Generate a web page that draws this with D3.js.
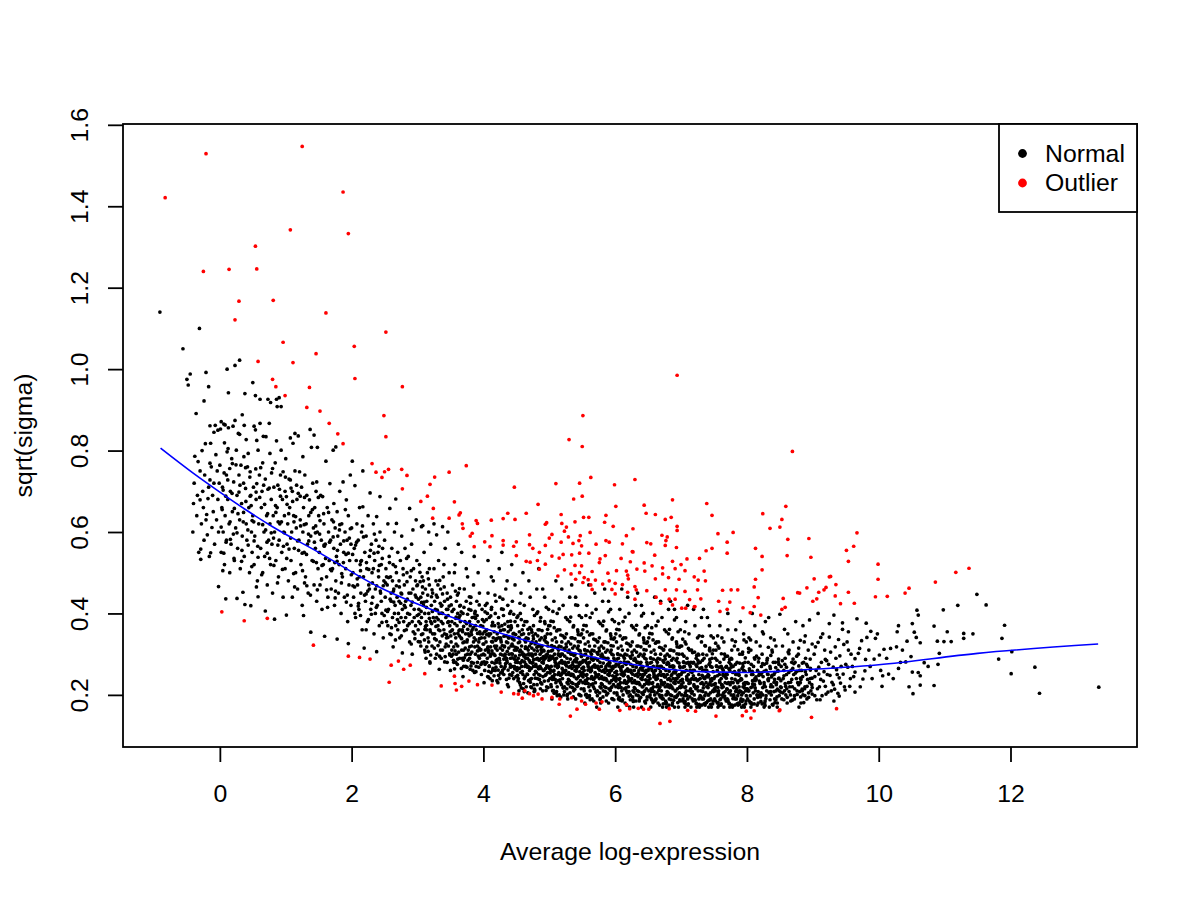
<!DOCTYPE html>
<html>
<head>
<meta charset="utf-8">
<script src="https://cdn.jsdelivr.net/npm/d3@7"></script>
<style>
  html, body { margin: 0; padding: 0; background: #fff; }
  svg text { font-family: "Liberation Sans", Arial, Helvetica, sans-serif; fill: #000; }
</style>
</head>
<body>
<svg id="chart" width="1200" height="900"></svg>
<script>
/* tick labels */
var xTicks = [0, 2, 4, 6, 8, 10, 12];
var yTicks = [0.2, 0.4, 0.6, 0.8, 1.0, 1.2, 1.4, 1.6];

/* legend */
var legendLabels = ["Normal", "Outlier"];
var legendColors = ["#000000", "#ff0000"];

/* fitted trend (x, y) */
var fitX = [-0.9, -0.4, 0, 0.4, 0.8, 1.5, 2.4, 3.5, 4.7, 6.0, 7.3, 8.0, 8.8, 10.0, 11.5, 13.33];
var fitY = [0.806, 0.744, 0.698, 0.654, 0.613, 0.55, 0.466, 0.392, 0.331, 0.282, 0.257, 0.255, 0.261, 0.274, 0.302, 0.325];

/* normal genes, flat x,y pairs */
var normalLeft = [
  -0.91,1.14, -0.56,1.05, -0.50,.975, -0.48,.961, -0.45,.988,
  -0.41,.60, -0.40,.67, -0.39,.72, -0.38,.786, -0.36,.891, -0.35,.64, -0.34,.69, -0.33,.773, -0.32,.55, -0.31,1.10,
  -0.30,.679, -0.30,.75, -0.29,.558, -0.29,.533, -0.28,.62, -0.27,.80, -0.26,.70, -0.25,.66, -0.24,.922, -0.24,.58,
  -0.23,.74, -0.22,.817, -0.21,.992, -0.21,.63, -0.20,.643, -0.19,.593, -0.18,.682, -0.17,.957, -0.17,.71, -0.16,.54,
  -0.15,.769, -0.15,.728, -0.15,.861, -0.14,.818, -0.14,.549, -0.13,.76, -0.12,.611, -0.11,.69, -0.10,.65, -0.09,.845,
  -0.09,.72, -0.08,.57, -0.07,.862, -0.06,.79, -0.05,.63, -0.04,.75, -0.03,.85, -0.03,.68, -0.02,.466, -0.02,.60, -0.01,.72,
  0.00,.764, 0.01,.853, 0.02,.871, 0.02,.55, 0.03,.66, 0.04,.71, 0.05,.703, 0.05,.60, 0.06,.865, 0.07,.819, 0.07,.52,
  0.08,.863, 0.08,.64, 0.09,.436, 0.10,.74, 0.10,.58, 0.11,1.0, 0.11,.797, 0.12,.68, 0.13,.856, 0.13,.942, 0.14,.62,
  0.15,.756, 0.15,.50, 0.16,.70, 0.17,.57, 0.18,.78, 0.19,.65, 0.20,.86, 0.21,.723, 0.22,.53, 0.23,.874, 0.23,1.009,
  0.24,.61, 0.25,.801, 0.26,.437, 0.26,.69, 0.27,.56, 0.28,.842, 0.29,.74, 0.30,1.022, 0.30,.84, 0.30,.63, 0.31,.51,
  0.32,.764, 0.33,.67, 0.34,.888, 0.34,.59, 0.35,.452, 0.36,.72, 0.37,.862, 0.37,.54, 0.38,.94, 0.38,.422, 0.39,.707,
  0.40,.827, 0.40,.62, 0.41,.58, 0.42,.76, 0.43,.793, 0.44,.66, 0.45,.50, 0.46,.748, 0.47,.419, 0.47,.69, 0.48,.60, 0.49,.55,
  0.50,.967, 0.50,.64, 0.51,.71, 0.52,.86, 0.52,.52, 0.53,.59, 0.54,.935, 0.54,.851, 0.55,.68, 0.56,.825, 0.56,.719,
  0.57,.48, 0.58,.441, 0.58,.801, 0.59,.62, 0.60,.74, 0.61,.926, 0.61,.867, 0.62,.56, 0.63,.66, 0.64,.70, 0.65,.77,
  0.65,.50, 0.66,.835, 0.67,.60, 0.68,.54, 0.69,.406, 0.69,.73, 0.70,.834, 0.71,.64, 0.72,.47, 0.73,.926, 0.73,.705,
  0.74,.58, 0.75,.867, 0.76,.793, 0.76,.62, 0.77,.918, 0.77,.52, 0.78,.68, 0.79,.57, 0.80,.756, 0.80,.45, 0.81,.64,
  0.82,.71, 0.83,.386, 0.83,.60, 0.84,.77, 0.85,.53, 0.86,.824, 0.86,.926, 0.87,.908, 0.87,.66, 0.88,.715, 0.89,.49,
  0.90,.93, 0.90,.58, 0.91,.62, 0.92,.74, 0.93,.908, 0.93,.801, 0.94,.55, 0.95,.68, 0.96,.748, 0.96,.44, 0.97,.60,
  0.98,.64, 0.99,.51, 0.99,.70,
  1.00,.78, 1.01,.396, 1.01,.687, 1.02,.57, 1.03,.62, 1.04,.48, 1.05,.73, 1.06,.66, 1.07,.831, 1.07,.728, 1.08,.53,
  1.09,.60, 1.10,.44, 1.10,.70, 1.11,.818, 1.12,.64, 1.13,.56, 1.14,.842, 1.14,.75, 1.15,.50, 1.16,.61, 1.17,.68,
  1.18,.46, 1.19,.836, 1.19,.695, 1.20,.58, 1.21,.748, 1.22,.63, 1.23,.52, 1.24,.71, 1.25,.42, 1.26,.785, 1.26,.60,
  1.27,.395, 1.27,.66, 1.28,.55, 1.29,.74, 1.30,.49, 1.31,.62, 1.32,.69, 1.33,.57, 1.34,.45, 1.35,.64, 1.36,.679,
  1.37,.852, 1.38,.354, 1.38,.59, 1.39,.808, 1.40,.53, 1.41,.72, 1.42,.61, 1.43,.838, 1.43,.47, 1.44,.66, 1.45,.56,
  1.46,.70, 1.47,.723, 1.47,.43, 1.48,.808, 1.48,.60, 1.49,.51,
  1.50,.64, 1.51,.55, 1.52,.47, 1.53,.69, 1.54,.58, 1.55,.41, 1.56,.687, 1.57,.52, 1.58,.62, 1.59,.344, 1.60,.57,
  1.61,.774, 1.62,.49, 1.63,.66, 1.64,.44, 1.65,.60, 1.66,.53, 1.67,.719, 1.68,.58, 1.69,.46, 1.70,.63, 1.71,.51,
  1.72,.801, 1.73,.670, 1.73,.56, 1.74,.42, 1.75,.61, 1.76,.809, 1.76,.48, 1.77,.54, 1.78,.337, 1.78,.65, 1.79,.59,
  1.80,.45, 1.81,.52, 1.82,.70, 1.83,.57, 1.84,.40, 1.85,.62, 1.86,.49, 1.87,.723, 1.88,.55, 1.89,.44, 1.90,.60,
  1.91,.51, 1.92,.679, 1.93,.58, 1.94,.38, 1.95,.326, 1.95,.64, 1.96,.47, 1.97,.53, 1.98,.74, 1.99,.42, 1.99,.57
];

var normalMid = [
  2.00,.61, 2.01,.774, 2.02,.50, 2.03,.44, 2.04,.56, 2.05,.714, 2.06,.39, 2.07,.53, 2.08,.62, 2.09,.47, 2.10,.58,
  2.11,.41, 2.12,.66, 2.13,.52, 2.14,.45, 2.15,.60, 2.16,.36, 2.17,.75, 2.17,.662, 2.18,.49, 2.19,.315, 2.20,.55,
  2.21,.43, 2.22,.59, 2.23,.51, 2.24,.38, 2.25,.64, 2.26,.47, 2.27,.54, 2.28,.696, 2.29,.41, 2.30,.57, 2.31,.50,
  2.32,.44, 2.33,.62, 2.34,.35, 2.35,.53, 2.36,.46, 2.37,.58, 2.38,.638, 2.38,.306, 2.39,.42, 2.40,.55, 2.41,.49,
  2.42,.37, 2.43,.687, 2.43,.60, 2.44,.45, 2.45,.52, 2.46,.40, 2.47,.56, 2.48,.34, 2.49,.48, 2.05,.40, 2.12,.49,
  2.22,.36, 2.27,.46, 2.36,.40, 2.45,.43, 2.15,.53, 2.33,.51,
  2.50,.58, 2.51,.44, 2.52,.51, 2.53,.38, 2.54,.47, 2.55,.62, 2.56,.41, 2.57,.54, 2.58,.658, 2.58,.35, 2.59,.49,
  2.60,.43, 2.61,.56, 2.62,.39, 2.63,.318, 2.63,.52, 2.64,.46, 2.65,.60, 2.66,.42, 2.67,.681, 2.67,.37, 2.68,.621,
  2.68,.50, 2.69,.44, 2.70,.55, 2.71,.40, 2.72,.48, 2.73,.34, 2.74,.53, 2.75,.45, 2.76,.59, 2.77,.303, 2.77,.41,
  2.78,.51, 2.79,.38, 2.80,.47, 2.81,.56, 2.82,.43, 2.83,.36, 2.84,.50, 2.85,.40, 2.86,.54, 2.87,.45, 2.88,.658,
  2.88,.33, 2.89,.49, 2.90,.42, 2.91,.57, 2.92,.30, 2.92,.38, 2.93,.605, 2.93,.46, 2.94,.51, 2.95,.41, 2.96,.35,
  2.97,.48, 2.98,.44, 2.99,.53, 2.55,.37, 2.60,.45, 2.65,.40, 2.70,.36, 2.75,.39, 2.80,.42, 2.85,.37, 2.90,.45,
  2.95,.39, 2.53,.49, 2.62,.48, 2.72,.43, 2.82,.39, 2.97,.37, 2.98,.63,
  3.00,.47, 3.01,.36, 3.02,.41, 3.03,.52, 3.04,.33, 3.05,.44, 3.06,.613, 3.06,.39, 3.07,.49, 3.08,.35, 3.09,.42,
  3.10,.55, 3.11,.31, 3.12,.46, 3.13,.38, 3.14,.43, 3.15,.50, 3.16,.34, 3.17,.40, 3.18,.47, 3.19,.278, 3.19,.36,
  3.20,.57, 3.21,.42, 3.22,.32, 3.23,.45, 3.24,.39, 3.25,.51, 3.26,.35, 3.27,.41, 3.28,.48, 3.29,.593, 3.29,.30,
  3.30,.44, 3.31,.37, 3.32,.53, 3.33,.263, 3.33,.40, 3.34,.33, 3.35,.46, 3.36,.38, 3.37,.42, 3.38,.31, 3.39,.49,
  3.40,.36, 3.41,.43, 3.42,.294, 3.42,.56, 3.43,.39, 3.44,.34, 3.45,.45, 3.46,.41, 3.47,.32, 3.48,.50, 3.49,.37,
  3.02,.38, 3.05,.32, 3.08,.45, 3.11,.40, 3.14,.36, 3.17,.33, 3.20,.38, 3.23,.35, 3.26,.43, 3.29,.39, 3.32,.36,
  3.35,.31, 3.38,.40, 3.41,.35, 3.44,.41, 3.47,.38, 3.13,.29, 3.27,.29, 3.36,.29, 3.45,.28, 3.09,.48, 3.31,.47,
  3.40,.52, 3.18,.51, 3.08,.616, 3.38,.613, 3.17,.60, 3.46,.60, 3.25,.62,
  3.50,.26, 3.50,.44, 3.51,.33, 3.52,.38, 3.53,.47, 3.54,.30, 3.55,.41, 3.56,.35, 3.57,.52, 3.58,.28, 3.59,.43,
  3.60,.37, 3.61,.32, 3.62,.45, 3.63,.39, 3.64,.29, 3.65,.42, 3.66,.34, 3.67,.55, 3.68,.36, 3.69,.245, 3.69,.40,
  3.70,.31, 3.71,.46, 3.72,.38, 3.73,.27, 3.74,.43, 3.75,.33, 3.76,.49, 3.77,.35, 3.78,.41, 3.79,.29, 3.80,.263,
  3.80,.37, 3.81,.44, 3.82,.32, 3.83,.39, 3.84,.26, 3.85,.47, 3.86,.34, 3.87,.40, 3.88,.30, 3.89,.36, 3.90,.43,
  3.91,.28, 3.92,.38, 3.93,.33, 3.94,.45, 3.95,.31, 3.96,.37, 3.97,.25, 3.98,.41, 3.99,.35, 3.52,.31, 3.55,.28,
  3.58,.34, 3.61,.40, 3.64,.36, 3.67,.31, 3.70,.27, 3.73,.35, 3.76,.30, 3.79,.38, 3.82,.28, 3.85,.33, 3.88,.37,
  3.91,.32, 3.94,.29, 3.97,.34, 3.53,.36, 3.59,.30, 3.65,.38, 3.71,.33, 3.77,.31, 3.83,.36, 3.89,.27, 3.95,.35,
  3.56,.50, 3.74,.51, 3.92,.50, 3.62,.57, 3.86,.54, 3.68,.29, 3.80,.30, 3.98,.28,
  4.00,.30, 4.01,.38, 4.02,.26, 4.03,.42, 4.04,.33, 4.05,.36, 4.06,.29, 4.07,.45, 4.08,.31, 4.09,.39, 4.10,.24,
  4.11,.35, 4.12,.41, 4.13,.28, 4.14,.33, 4.15,.48, 4.16,.30, 4.17,.37, 4.18,.26, 4.19,.43, 4.20,.32, 4.21,.35,
  4.22,.23, 4.23,.39, 4.24,.29, 4.25,.44, 4.26,.34, 4.27,.27, 4.28,.37, 4.29,.31, 4.30,.41, 4.31,.25, 4.32,.36,
  4.33,.30, 4.34,.46, 4.35,.33, 4.36,.28, 4.37,.38, 4.38,.22, 4.39,.34, 4.40,.40, 4.41,.29, 4.42,.32, 4.43,.27,
  4.44,.43, 4.45,.35, 4.46,.24, 4.47,.31, 4.48,.38, 4.49,.28, 4.02,.34, 4.05,.28, 4.08,.35, 4.11,.30, 4.14,.26,
  4.17,.32, 4.20,.28, 4.23,.34, 4.26,.30, 4.29,.26, 4.32,.32, 4.35,.29, 4.38,.34, 4.41,.36, 4.44,.30, 4.47,.27,
  4.03,.31, 4.09,.27, 4.15,.34, 4.21,.31, 4.27,.33, 4.33,.27, 4.39,.30, 4.45,.32, 4.06,.40, 4.18,.40, 4.30,.36,
  4.42,.37, 4.12,.49, 4.24,.51, 4.36,.48, 4.48,.47, 4.07,.53, 4.28,.55, 4.43,.52, 4.01,.23, 4.25,.24, 4.40,.25,
  4.13,.37, 4.37,.42,
  4.50,.31, 4.51,.26, 4.52,.37, 4.53,.29, 4.54,.34, 4.55,.23, 4.56,.40, 4.57,.28, 4.58,.32, 4.59,.36, 4.60,.25,
  4.61,.30, 4.62,.42, 4.63,.27, 4.64,.33, 4.65,.22, 4.66,.38, 4.67,.29, 4.68,.31, 4.69,.35, 4.70,.26, 4.71,.44,
  4.72,.30, 4.73,.24, 4.74,.33, 4.75,.28, 4.76,.37, 4.77,.31, 4.78,.21, 4.79,.35, 4.80,.27, 4.81,.40, 4.82,.29,
  4.83,.32, 4.84,.25, 4.85,.36, 4.86,.30, 4.87,.23, 4.88,.34, 4.89,.28, 4.90,.46, 4.91,.31, 4.92,.26, 4.93,.38,
  4.94,.29, 4.95,.33, 4.96,.22, 4.97,.35, 4.98,.27, 4.99,.41, 4.52,.28, 4.55,.33, 4.58,.27, 4.61,.35, 4.64,.29,
  4.67,.25, 4.70,.32, 4.73,.36, 4.76,.27, 4.79,.30, 4.82,.24, 4.85,.32, 4.88,.29, 4.91,.26, 4.94,.34, 4.97,.30,
  4.53,.24, 4.59,.30, 4.65,.34, 4.71,.28, 4.77,.25, 4.83,.36, 4.89,.32, 4.95,.25, 4.51,.39, 4.63,.38, 4.75,.41,
  4.87,.39, 4.99,.37, 4.57,.45, 4.69,.48, 4.81,.46, 4.93,.44, 4.60,.50, 4.84,.51, 4.54,.21, 4.72,.22, 4.90,.21,
  4.56,.31, 4.68,.27, 4.80,.33, 4.92,.29, 4.62,.24, 4.74,.30, 4.86,.27, 4.98,.32,
  5.00,.29, 5.01,.24, 5.02,.35, 5.03,.27, 5.04,.32, 5.05,.21, 5.06,.38, 5.07,.26, 5.08,.30, 5.09,.34, 5.10,.23,
  5.11,.29, 5.12,.40, 5.13,.25, 5.14,.31, 5.15,.20, 5.16,.36, 5.17,.28, 5.18,.30, 5.19,.33, 5.20,.24, 5.21,.42,
  5.22,.28, 5.23,.22, 5.24,.31, 5.25,.26, 5.26,.35, 5.27,.29, 5.28,.19, 5.29,.33, 5.30,.25, 5.31,.38, 5.32,.27,
  5.33,.30, 5.34,.23, 5.35,.34, 5.36,.28, 5.37,.21, 5.38,.32, 5.39,.26, 5.40,.44, 5.41,.29, 5.42,.24, 5.43,.36,
  5.44,.27, 5.45,.31, 5.46,.20, 5.47,.33, 5.48,.25, 5.49,.39, 5.02,.26, 5.05,.31, 5.08,.25, 5.11,.33, 5.14,.27,
  5.17,.23, 5.20,.30, 5.23,.34, 5.26,.25, 5.29,.28, 5.32,.22, 5.35,.30, 5.38,.27, 5.41,.24, 5.44,.32, 5.47,.28,
  5.03,.22, 5.09,.28, 5.15,.32, 5.21,.26, 5.27,.23, 5.33,.34, 5.39,.30, 5.45,.23, 5.01,.37, 5.13,.36, 5.25,.39,
  5.37,.37, 5.49,.35, 5.07,.43, 5.19,.46, 5.31,.44, 5.43,.42, 5.10,.48, 5.34,.47, 5.04,.19, 5.22,.20, 5.40,.19,
  5.06,.29, 5.18,.25, 5.30,.31, 5.42,.27, 5.12,.22, 5.24,.28, 5.36,.25, 5.48,.30,
  5.50,.28, 5.51,.23, 5.52,.34, 5.53,.26, 5.54,.31, 5.55,.20, 5.56,.37, 5.57,.25, 5.58,.29, 5.59,.33, 5.60,.22,
  5.61,.28, 5.62,.39, 5.63,.24, 5.64,.30, 5.65,.19, 5.66,.35, 5.67,.27, 5.68,.29, 5.69,.32, 5.70,.23, 5.71,.41,
  5.72,.27, 5.73,.21, 5.74,.30, 5.75,.25, 5.76,.34, 5.77,.28, 5.78,.18, 5.79,.32, 5.80,.24, 5.81,.37, 5.82,.26,
  5.83,.29, 5.84,.22, 5.85,.33, 5.86,.27, 5.87,.20, 5.88,.31, 5.89,.25, 5.90,.43, 5.91,.28, 5.92,.23, 5.93,.35,
  5.94,.26, 5.95,.30, 5.96,.19, 5.97,.32, 5.98,.24, 5.99,.38, 5.52,.25, 5.55,.30, 5.58,.24, 5.61,.32, 5.64,.26,
  5.67,.22, 5.70,.29, 5.73,.33, 5.76,.24, 5.79,.27, 5.82,.21, 5.85,.29, 5.88,.26, 5.91,.23, 5.94,.31, 5.97,.27,
  5.53,.21, 5.59,.27, 5.65,.31, 5.71,.25, 5.77,.22, 5.83,.33, 5.89,.29, 5.95,.22, 5.51,.36, 5.63,.35, 5.75,.38,
  5.87,.36, 5.99,.34, 5.57,.42, 5.69,.45, 5.81,.43, 5.93,.41, 5.60,.47, 5.84,.46, 5.54,.18, 5.72,.17, 5.90,.18,
  5.56,.28, 5.68,.24, 5.80,.30, 5.92,.26, 5.62,.21, 5.74,.27, 5.86,.24, 5.98,.29
];

var normalRight = [
  6.00,.27, 6.01,.22, 6.02,.33, 6.03,.25, 6.04,.30, 6.05,.19, 6.06,.36, 6.07,.24, 6.08,.28, 6.09,.32, 6.10,.21,
  6.11,.27, 6.12,.38, 6.13,.23, 6.14,.29, 6.15,.18, 6.16,.34, 6.17,.26, 6.18,.28, 6.19,.31, 6.20,.22, 6.21,.40,
  6.22,.26, 6.23,.20, 6.24,.29, 6.25,.24, 6.26,.33, 6.27,.27, 6.28,.17, 6.29,.31, 6.30,.23, 6.31,.36, 6.32,.25,
  6.33,.28, 6.34,.21, 6.35,.32, 6.36,.26, 6.37,.19, 6.38,.30, 6.39,.24, 6.40,.42, 6.41,.27, 6.42,.22, 6.43,.34,
  6.44,.25, 6.45,.29, 6.46,.18, 6.47,.31, 6.48,.23, 6.49,.37, 6.02,.24, 6.05,.29, 6.08,.23, 6.11,.31, 6.14,.25,
  6.17,.21, 6.20,.28, 6.23,.32, 6.26,.23, 6.29,.26, 6.32,.20, 6.35,.28, 6.38,.25, 6.41,.22, 6.44,.30, 6.47,.26,
  6.03,.20, 6.09,.26, 6.15,.30, 6.21,.24, 6.27,.21, 6.33,.32, 6.39,.28, 6.45,.21, 6.01,.35, 6.13,.34, 6.25,.37,
  6.37,.35, 6.49,.33, 6.07,.41, 6.19,.44, 6.31,.42, 6.43,.40, 6.10,.46, 6.34,.45, 6.04,.17, 6.22,.17, 6.40,.17,
  6.06,.27, 6.18,.23, 6.30,.29, 6.42,.25, 6.12,.20, 6.24,.26, 6.36,.23, 6.48,.28,
  6.50,.26, 6.51,.21, 6.52,.32, 6.53,.24, 6.54,.29, 6.55,.19, 6.56,.35, 6.57,.23, 6.58,.27, 6.59,.31, 6.60,.20,
  6.61,.26, 6.62,.37, 6.63,.22, 6.64,.28, 6.65,.18, 6.66,.33, 6.67,.25, 6.68,.27, 6.69,.30, 6.70,.21, 6.71,.39,
  6.72,.25, 6.73,.19, 6.74,.28, 6.75,.23, 6.76,.32, 6.77,.26, 6.78,.17, 6.79,.30, 6.80,.22, 6.81,.35, 6.82,.24,
  6.83,.27, 6.84,.20, 6.85,.31, 6.86,.25, 6.87,.18, 6.88,.29, 6.89,.23, 6.90,.41, 6.91,.26, 6.92,.21, 6.93,.33,
  6.94,.24, 6.95,.28, 6.96,.17, 6.97,.30, 6.98,.22, 6.99,.36, 6.52,.23, 6.55,.28, 6.58,.22, 6.61,.30, 6.64,.24,
  6.67,.20, 6.70,.27, 6.73,.31, 6.76,.22, 6.79,.25, 6.82,.19, 6.85,.27, 6.88,.24, 6.91,.21, 6.94,.29, 6.97,.25,
  6.53,.20, 6.59,.25, 6.65,.29, 6.71,.23, 6.77,.20, 6.83,.31, 6.89,.27, 6.95,.20, 6.51,.34, 6.63,.33, 6.75,.36,
  6.87,.34, 6.99,.32, 6.57,.40, 6.69,.43, 6.81,.41, 6.93,.39, 6.60,.44, 6.84,.43, 6.54,.17, 6.72,.17, 6.90,.17,
  6.56,.26, 6.68,.22, 6.80,.28, 6.92,.24, 6.62,.19, 6.74,.25, 6.86,.22, 6.98,.27,
  7.00,.25, 7.01,.20, 7.02,.30, 7.03,.23, 7.04,.28, 7.05,.18, 7.06,.33, 7.07,.22, 7.08,.26, 7.09,.29, 7.10,.19,
  7.11,.25, 7.12,.35, 7.13,.21, 7.14,.27, 7.15,.17, 7.16,.31, 7.17,.24, 7.18,.26, 7.19,.28, 7.20,.20, 7.21,.37,
  7.22,.24, 7.23,.18, 7.24,.27, 7.25,.22, 7.26,.30, 7.27,.25, 7.28,.17, 7.29,.28, 7.30,.21, 7.31,.33, 7.32,.23,
  7.33,.26, 7.34,.19, 7.35,.29, 7.36,.24, 7.37,.18, 7.38,.27, 7.39,.22, 7.40,.39, 7.41,.25, 7.42,.20, 7.43,.31,
  7.44,.23, 7.45,.27, 7.46,.17, 7.47,.29, 7.48,.21, 7.49,.34, 7.02,.22, 7.05,.27, 7.08,.21, 7.11,.28, 7.14,.23,
  7.17,.19, 7.20,.26, 7.23,.29, 7.26,.21, 7.29,.24, 7.32,.19, 7.35,.26, 7.38,.23, 7.41,.20, 7.44,.28, 7.47,.24,
  7.03,.19, 7.09,.24, 7.15,.28, 7.21,.22, 7.27,.19, 7.33,.30, 7.39,.26, 7.45,.19, 7.01,.32, 7.13,.31, 7.25,.34,
  7.37,.32, 7.49,.31, 7.07,.38, 7.19,.41, 7.31,.39, 7.43,.37, 7.10,.42, 7.34,.41, 7.06,.17, 7.24,.17, 7.42,.17,
  7.50,.24, 7.51,.19, 7.52,.29, 7.53,.22, 7.54,.27, 7.55,.18, 7.56,.32, 7.57,.21, 7.58,.25, 7.59,.28, 7.60,.19,
  7.61,.24, 7.62,.34, 7.63,.20, 7.64,.26, 7.65,.17, 7.66,.30, 7.67,.23, 7.68,.25, 7.69,.27, 7.70,.19, 7.71,.36,
  7.72,.23, 7.73,.18, 7.74,.26, 7.75,.21, 7.76,.29, 7.77,.24, 7.78,.17, 7.79,.27, 7.80,.20, 7.81,.32, 7.82,.22,
  7.83,.25, 7.84,.19, 7.85,.28, 7.86,.23, 7.87,.18, 7.88,.26, 7.89,.21, 7.90,.38, 7.91,.24, 7.92,.20, 7.93,.30,
  7.94,.22, 7.95,.26, 7.96,.17, 7.97,.28, 7.98,.21, 7.99,.33, 7.52,.21, 7.55,.26, 7.58,.20, 7.61,.27, 7.64,.22,
  7.67,.19, 7.70,.25, 7.73,.28, 7.76,.20, 7.79,.23, 7.82,.19, 7.85,.25, 7.88,.22, 7.91,.19, 7.94,.27, 7.97,.23,
  7.53,.31, 7.65,.33, 7.77,.31, 7.89,.30, 7.59,.37, 7.71,.40, 7.83,.36, 7.95,.35, 7.56,.17, 7.74,.17, 7.92,.17,
  8.00,.23, 8.01,.19, 8.02,.28, 8.03,.21, 8.04,.26, 8.05,.18, 8.06,.31, 8.08,.22, 8.09,.25, 8.10,.27, 8.11,.19,
  8.12,.24, 8.14,.33, 8.15,.20, 8.16,.26, 8.17,.18, 8.18,.29, 8.20,.23, 8.21,.25, 8.22,.27, 8.24,.20, 8.25,.35,
  8.26,.23, 8.27,.18, 8.29,.26, 8.30,.21, 8.31,.29, 8.33,.24, 8.34,.17, 8.35,.27, 8.37,.20, 8.38,.31, 8.39,.22,
  8.41,.25, 8.42,.19, 8.43,.28, 8.45,.23, 8.46,.18, 8.47,.26, 8.49,.21, 8.02,.21, 8.07,.25, 8.13,.21, 8.19,.20,
  8.23,.30, 8.28,.22, 8.32,.25, 8.36,.22, 8.40,.28, 8.44,.21, 8.48,.24, 8.03,.34, 8.12,.37, 8.20,.32, 8.28,.38,
  8.36,.34, 8.44,.32, 8.08,.40, 8.33,.39, 8.06,.17, 8.26,.17, 8.46,.17,
  8.50,.398, 8.51,.22, 8.52,.27, 8.53,.19, 8.55,.24, 8.57,.361, 8.57,.21, 8.58,.29, 8.60,.25, 8.61,.18, 8.63,.23,
  8.64,.31, 8.66,.20, 8.67,.26, 8.69,.22, 8.70,.33, 8.72,.19, 8.73,.28, 8.75,.24, 8.76,.21, 8.78,.30, 8.79,.17,
  8.81,.334, 8.81,.23, 8.83,.26, 8.85,.37, 8.85,.20, 8.86,.28, 8.88,.22, 8.90,.25, 8.91,.19, 8.93,.31, 8.95,.384,
  8.95,.23, 8.97,.21, 8.99,.202, 8.99,.325, 8.54,.32, 8.62,.35, 8.68,.28, 8.74,.38, 8.80,.26, 8.87,.33, 8.92,.27,
  8.56,.26, 8.65,.22, 8.71,.25, 8.77,.23, 8.84,.21, 8.89,.29, 8.96,.24, 8.59,.20, 8.82,.18
];

/* extra genes filling the dense core of the cloud */
var normalCore = [
  0.035,.655, 0.065,.745, 0.095,.575, 0.125,.805, 0.155,.625, 0.185,.695, 0.215,.535, 0.245,.765, 0.275,.645,
  0.305,.715, 0.335,.555, 0.365,.785, 0.395,.675, 0.425,.605, 0.455,.735, 0.485,.515, 0.045,.505, 0.205,.595,
  0.355,.625, 0.475,.665,
  0.515,.625, 0.545,.755, 0.575,.565, 0.605,.685, 0.635,.495, 0.665,.715, 0.695,.605, 0.725,.645, 0.755,.535,
  0.785,.745, 0.815,.585, 0.845,.665, 0.875,.475, 0.905,.705, 0.935,.625, 0.965,.565, 0.995,.735, 0.555,.465,
  0.715,.575, 0.885,.625,
  1.015,.535, 1.045,.645, 1.075,.585, 1.105,.675, 1.135,.465, 1.165,.715, 1.195,.555, 1.225,.615, 1.255,.505,
  1.285,.685, 1.315,.545, 1.345,.595, 1.375,.445, 1.405,.655, 1.435,.575, 1.465,.525, 1.495,.685, 1.125,.625,
  1.285,.475, 1.455,.615,
  1.515,.595, 1.545,.485, 1.575,.645, 1.605,.535, 1.635,.415, 1.665,.575, 1.695,.505, 1.725,.625, 1.755,.455,
  1.785,.555, 1.815,.605, 1.845,.475, 1.875,.525, 1.905,.655, 1.935,.445, 1.965,.585, 1.995,.495, 1.585,.565,
  1.745,.525, 1.915,.545,
  2.015,.545, 2.045,.465, 2.075,.575, 2.105,.425, 2.135,.505, 2.165,.615, 2.195,.445, 2.225,.525, 2.255,.385,
  2.285,.555, 2.315,.475, 2.345,.595, 2.375,.415, 2.405,.505, 2.435,.455, 2.465,.535, 2.495,.395, 2.085,.485,
  2.245,.455, 2.415,.565, 2.135,.395, 2.305,.425,
  2.515,.475, 2.545,.405, 2.575,.525, 2.605,.365, 2.635,.455, 2.665,.515, 2.695,.385, 2.725,.465, 2.755,.345,
  2.785,.495, 2.815,.415, 2.845,.435, 2.875,.375, 2.905,.505, 2.935,.355, 2.965,.445, 2.995,.395, 2.585,.435,
  2.745,.425, 2.905,.325, 2.665,.335, 2.835,.535,
  3.015,.435, 3.045,.375, 3.075,.465, 3.105,.335, 3.135,.415, 3.165,.485, 3.195,.355, 3.225,.405, 3.255,.315,
  3.285,.445, 3.315,.385, 3.345,.425, 3.375,.345, 3.405,.465, 3.435,.325, 3.465,.395, 3.495,.355, 3.055,.405,
  3.215,.375, 3.385,.375, 3.115,.305, 3.285,.335, 3.455,.435, 3.155,.445, 3.335,.295,
  3.505,.345, 3.525,.405, 3.545,.285, 3.565,.375, 3.585,.325, 3.605,.445, 3.625,.305, 3.645,.395, 3.665,.265,
  3.685,.355, 3.705,.415, 3.725,.315, 3.745,.375, 3.765,.285, 3.785,.345, 3.805,.425, 3.825,.305, 3.845,.365,
  3.865,.255, 3.885,.335, 3.905,.395, 3.925,.295, 3.945,.355, 3.965,.275, 3.985,.385, 3.515,.295, 3.575,.455,
  3.635,.345, 3.695,.285, 3.755,.335, 3.815,.355, 3.875,.405, 3.935,.315, 3.995,.325, 3.605,.275,
  4.005,.325, 4.025,.275, 4.045,.385, 4.065,.245, 4.085,.345, 4.105,.295, 4.125,.415, 4.145,.265, 4.165,.355,
  4.185,.315, 4.205,.235, 4.225,.375, 4.245,.285, 4.265,.335, 4.285,.255, 4.305,.395, 4.325,.295, 4.345,.345,
  4.365,.225, 4.385,.315, 4.405,.275, 4.425,.365, 4.445,.255, 4.465,.335, 4.485,.295, 4.015,.355, 4.075,.305,
  4.135,.235, 4.195,.285, 4.255,.315, 4.315,.265, 4.375,.355, 4.435,.325, 4.495,.245, 4.055,.425, 4.175,.445,
  4.295,.435, 4.415,.405, 4.115,.255, 4.355,.285,
  4.505,.285, 4.525,.235, 4.545,.355, 4.565,.255, 4.585,.305, 4.605,.215, 4.625,.335, 4.645,.275, 4.665,.315,
  4.685,.235, 4.705,.365, 4.725,.265, 4.745,.295, 4.765,.225, 4.785,.325, 4.805,.255, 4.825,.345, 4.845,.285,
  4.865,.215, 4.885,.305, 4.905,.245, 4.925,.335, 4.945,.265, 4.965,.295, 4.985,.235, 4.515,.315, 4.575,.385,
  4.635,.245, 4.695,.285, 4.755,.345, 4.815,.225, 4.875,.265, 4.935,.375, 4.995,.285, 4.545,.265, 4.615,.295,
  4.675,.205, 4.735,.315, 4.795,.275, 4.855,.335, 4.915,.285, 4.975,.255, 4.555,.425, 4.775,.395, 4.955,.415,
  5.005,.265, 5.025,.225, 5.045,.335, 5.065,.245, 5.085,.285, 5.105,.205, 5.125,.315, 5.145,.255, 5.165,.295,
  5.185,.225, 5.205,.345, 5.225,.255, 5.245,.275, 5.265,.215, 5.285,.305, 5.305,.235, 5.325,.325, 5.345,.265,
  5.365,.195, 5.385,.285, 5.405,.225, 5.425,.315, 5.445,.245, 5.465,.275, 5.485,.215, 5.015,.295, 5.075,.365,
  5.135,.235, 5.195,.265, 5.255,.325, 5.315,.205, 5.375,.245, 5.435,.355, 5.495,.265, 5.045,.245, 5.115,.275,
  5.175,.195, 5.235,.295, 5.295,.255, 5.355,.315, 5.415,.265, 5.475,.235, 5.055,.405, 5.275,.385, 5.455,.395,
  5.505,.255, 5.525,.215, 5.545,.325, 5.565,.235, 5.585,.275, 5.605,.195, 5.625,.305, 5.645,.245, 5.665,.285,
  5.685,.215, 5.705,.335, 5.725,.245, 5.745,.265, 5.765,.205, 5.785,.295, 5.805,.225, 5.825,.315, 5.845,.255,
  5.865,.185, 5.885,.275, 5.905,.215, 5.925,.305, 5.945,.235, 5.965,.265, 5.985,.205, 5.515,.285, 5.575,.355,
  5.635,.225, 5.695,.255, 5.755,.315, 5.815,.195, 5.875,.235, 5.935,.345, 5.995,.255, 5.545,.235, 5.615,.265,
  5.675,.185, 5.735,.285, 5.795,.245, 5.855,.305, 5.915,.255, 5.975,.225, 5.555,.395, 5.775,.375, 5.955,.385,
  6.005,.245, 6.025,.205, 6.045,.315, 6.065,.225, 6.085,.265, 6.105,.185, 6.125,.295, 6.145,.235, 6.165,.275,
  6.185,.205, 6.205,.325, 6.225,.235, 6.245,.255, 6.265,.195, 6.285,.285, 6.305,.215, 6.325,.305, 6.345,.245,
  6.365,.185, 6.385,.265, 6.405,.205, 6.425,.295, 6.445,.225, 6.465,.255, 6.485,.195, 6.015,.275, 6.075,.345,
  6.135,.215, 6.195,.245, 6.255,.305, 6.315,.185, 6.375,.225, 6.435,.335, 6.495,.245, 6.045,.225, 6.115,.255,
  6.175,.175, 6.235,.275, 6.295,.235, 6.355,.295, 6.415,.245, 6.475,.215, 6.055,.375, 6.275,.365, 6.455,.365,
  6.505,.235, 6.525,.195, 6.545,.305, 6.565,.215, 6.585,.255, 6.605,.185, 6.625,.285, 6.645,.225, 6.665,.265,
  6.685,.195, 6.705,.315, 6.725,.225, 6.745,.245, 6.765,.185, 6.785,.275, 6.805,.205, 6.825,.295, 6.845,.235,
  6.865,.175, 6.885,.255, 6.905,.195, 6.925,.285, 6.945,.215, 6.965,.245, 6.985,.185, 6.515,.265, 6.575,.335,
  6.635,.205, 6.695,.235, 6.755,.295, 6.815,.175, 6.875,.215, 6.935,.325, 6.995,.235, 6.545,.215, 6.615,.245,
  6.675,.175, 6.735,.265, 6.795,.225, 6.855,.285, 6.915,.235, 6.975,.205, 6.555,.365, 6.775,.355, 6.955,.355,
  7.005,.225, 7.025,.185, 7.045,.295, 7.065,.205, 7.085,.245, 7.105,.175, 7.125,.275, 7.145,.215, 7.165,.255,
  7.185,.185, 7.205,.305, 7.225,.215, 7.245,.235, 7.265,.175, 7.285,.265, 7.305,.195, 7.325,.285, 7.345,.225,
  7.365,.175, 7.385,.245, 7.405,.185, 7.425,.275, 7.445,.205, 7.465,.235, 7.485,.185, 7.015,.255, 7.075,.325,
  7.135,.195, 7.195,.225, 7.255,.285, 7.315,.175, 7.375,.205, 7.435,.315, 7.495,.225, 7.055,.355, 7.275,.345,
  7.455,.345, 7.115,.235, 7.335,.245, 7.415,.225,
  7.505,.215, 7.525,.185, 7.545,.285, 7.565,.205, 7.585,.235, 7.605,.175, 7.625,.265, 7.645,.205, 7.665,.245,
  7.685,.185, 7.705,.295, 7.725,.205, 7.745,.225, 7.765,.175, 7.785,.255, 7.805,.195, 7.825,.275, 7.845,.215,
  7.865,.175, 7.885,.235, 7.905,.185, 7.925,.265, 7.945,.205, 7.965,.225, 7.985,.185, 7.515,.245, 7.575,.315,
  7.635,.195, 7.695,.215, 7.755,.275, 7.815,.175, 7.875,.205, 7.935,.305, 7.995,.215, 7.555,.345, 7.775,.335,
  7.955,.335, 7.615,.225,
  8.005,.215, 8.035,.185, 8.065,.275, 8.095,.205, 8.125,.235, 8.155,.175, 8.185,.255, 8.215,.205, 8.245,.245,
  8.275,.185, 8.305,.285, 8.335,.205, 8.365,.225, 8.395,.175, 8.425,.255, 8.455,.195, 8.485,.275, 8.025,.305,
  8.085,.235, 8.145,.295, 8.205,.195, 8.265,.275, 8.325,.235, 8.385,.305, 8.445,.225, 8.055,.335, 8.235,.355,
  8.415,.335, 8.115,.225, 8.355,.265,
  8.515,.235, 8.545,.205, 8.575,.275, 8.605,.215, 8.635,.255, 8.665,.185, 8.695,.265, 8.725,.215, 8.755,.295,
  8.785,.225, 8.815,.195, 8.845,.245, 8.875,.215, 8.905,.275, 8.935,.205, 8.965,.265, 8.985,.225, 8.625,.305,
  8.785,.315, 8.885,.345
];

/* more genes in the darkest part of the cloud */
var normalDense = [
  0.02,.612, 0.06,.548, 0.09,.688, 0.12,.728, 0.16,.582, 0.19,.768, 0.22,.658, 0.26,.598, 0.29,.698, 0.33,.528,
  0.36,.648, 0.39,.758, 0.43,.568, 0.46,.688, 0.49,.628, 0.52,.578, 0.55,.698, 0.58,.538, 0.62,.758, 0.65,.618,
  0.68,.668, 0.72,.548, 0.75,.708, 0.78,.598, 0.82,.518, 0.85,.648, 0.88,.568, 0.92,.688, 0.95,.508, 0.98,.598,
  1.02,.668, 1.05,.558, 1.08,.708, 1.12,.498, 1.15,.638, 1.18,.578, 1.22,.688, 1.25,.548, 1.28,.618, 1.32,.468,
  1.35,.578, 1.38,.648, 1.42,.528, 1.45,.598, 1.48,.458, 1.52,.628, 1.55,.518, 1.58,.568, 1.62,.458, 1.65,.648,
  1.68,.508, 1.72,.588, 1.75,.438, 1.78,.528, 1.82,.618, 1.85,.498, 1.88,.578, 1.92,.428, 1.95,.548, 1.98,.608,
  2.02,.468, 2.06,.568, 2.10,.418, 2.14,.528, 2.18,.588, 2.22,.448, 2.26,.508, 2.30,.398, 2.34,.548, 2.38,.468,
  2.42,.518, 2.46,.378, 2.48,.468, 2.52,.408, 2.56,.488, 2.60,.348, 2.64,.428, 2.68,.468, 2.72,.378, 2.76,.448,
  2.80,.358, 2.84,.478, 2.88,.398, 2.92,.428, 2.96,.338, 2.99,.468,
  3.02,.398, 3.06,.348, 3.10,.428, 3.14,.318, 3.18,.388, 3.22,.458, 3.26,.338, 3.30,.408, 3.34,.358, 3.38,.448,
  3.42,.318, 3.46,.378, 3.49,.298, 3.12,.368, 3.28,.368, 3.44,.348, 3.04,.478, 3.36,.418, 3.20,.298, 3.48,.418,
  3.52,.358, 3.55,.318, 3.58,.388, 3.61,.288, 3.64,.418, 3.67,.338, 3.70,.368, 3.73,.298, 3.76,.398, 3.79,.318,
  3.82,.348, 3.85,.278, 3.88,.388, 3.91,.308, 3.94,.338, 3.97,.298, 3.99,.368, 3.57,.308, 3.69,.328, 3.81,.408,
  3.93,.268, 3.63,.358, 3.87,.318, 3.75,.268,
  4.02,.298, 4.05,.348, 4.08,.258, 4.11,.318, 4.14,.378, 4.17,.278, 4.20,.338, 4.23,.248, 4.26,.358, 4.29,.298,
  4.32,.318, 4.35,.238, 4.38,.368, 4.41,.268, 4.44,.338, 4.47,.288, 4.49,.348, 4.07,.318, 4.19,.268, 4.31,.288,
  4.43,.248, 4.13,.308, 4.25,.278, 4.37,.328, 4.46,.398,
  4.52,.248, 4.55,.298, 4.58,.348, 4.61,.228, 4.64,.318, 4.67,.268, 4.70,.298, 4.73,.218, 4.76,.338, 4.79,.258,
  4.82,.308, 4.85,.238, 4.88,.318, 4.91,.278, 4.94,.248, 4.97,.328, 4.99,.268, 4.56,.278, 4.62,.208, 4.68,.338,
  4.74,.278, 4.80,.288, 4.86,.248, 4.92,.308, 4.98,.218, 4.59,.258, 4.71,.238, 4.83,.268, 4.95,.298, 4.65,.298,
  4.77,.208, 4.89,.358, 4.53,.328,
  5.02,.288, 5.05,.238, 5.08,.318, 5.11,.208, 5.14,.298, 5.17,.248, 5.20,.278, 5.23,.208, 5.26,.318, 5.29,.238,
  5.32,.288, 5.35,.218, 5.38,.298, 5.41,.258, 5.44,.228, 5.47,.308, 5.49,.248, 5.06,.258, 5.12,.198, 5.18,.318,
  5.24,.258, 5.30,.268, 5.36,.228, 5.42,.288, 5.48,.198, 5.09,.238, 5.21,.218, 5.33,.248, 5.45,.278, 5.15,.278,
  5.27,.198, 5.39,.338, 5.03,.308, 5.44,.348,
  5.52,.268, 5.55,.228, 5.58,.308, 5.61,.198, 5.64,.288, 5.67,.238, 5.70,.268, 5.73,.198, 5.76,.308, 5.79,.228,
  5.82,.278, 5.85,.208, 5.88,.288, 5.91,.248, 5.94,.218, 5.97,.298, 5.99,.238, 5.56,.248, 5.62,.188, 5.68,.308,
  5.74,.248, 5.80,.258, 5.86,.218, 5.92,.278, 5.98,.188, 5.59,.228, 5.71,.208, 5.83,.238, 5.95,.268, 5.65,.268,
  5.77,.188, 5.89,.328, 5.53,.298, 5.94,.338,
  6.02,.258, 6.05,.218, 6.08,.298, 6.11,.188, 6.14,.278, 6.17,.228, 6.20,.258, 6.23,.188, 6.26,.298, 6.29,.218,
  6.32,.268, 6.35,.198, 6.38,.278, 6.41,.238, 6.44,.208, 6.47,.288, 6.49,.228, 6.06,.238, 6.12,.248, 6.18,.298,
  6.24,.238, 6.30,.248, 6.36,.208, 6.42,.268, 6.48,.188, 6.09,.218, 6.21,.208, 6.33,.228, 6.45,.258, 6.15,.258,
  6.27,.188, 6.39,.318, 6.03,.288, 6.44,.328,
  6.52,.248, 6.55,.208, 6.58,.288, 6.61,.188, 6.64,.268, 6.67,.218, 6.70,.248, 6.73,.178, 6.76,.288, 6.79,.208,
  6.82,.258, 6.85,.188, 6.88,.268, 6.91,.228, 6.94,.198, 6.97,.278, 6.99,.218, 6.56,.228, 6.62,.238, 6.68,.288,
  6.74,.228, 6.80,.238, 6.86,.198, 6.92,.258, 6.98,.188, 6.59,.208, 6.71,.198, 6.83,.218, 6.95,.248, 6.65,.248,
  6.77,.178, 6.89,.308, 6.53,.278, 6.94,.318,
  7.02,.238, 7.05,.198, 7.08,.278, 7.11,.178, 7.14,.258, 7.17,.208, 7.20,.238, 7.23,.178, 7.26,.278, 7.29,.198,
  7.32,.248, 7.35,.178, 7.38,.258, 7.41,.218, 7.44,.188, 7.47,.268, 7.49,.208, 7.06,.218, 7.12,.228, 7.18,.278,
  7.24,.218, 7.30,.228, 7.36,.198, 7.42,.248, 7.48,.178, 7.09,.198, 7.21,.188, 7.33,.208, 7.45,.238, 7.15,.238,
  7.27,.298, 7.39,.298, 7.03,.268, 7.44,.308,
  7.52,.228, 7.55,.198, 7.58,.268, 7.61,.178, 7.64,.248, 7.67,.208, 7.70,.228, 7.73,.178, 7.76,.268, 7.79,.198,
  7.82,.238, 7.85,.178, 7.88,.248, 7.91,.208, 7.94,.188, 7.97,.258, 7.99,.198, 7.56,.218, 7.62,.218, 7.68,.268,
  7.74,.208, 7.80,.218, 7.86,.198, 7.92,.238, 7.98,.178, 7.59,.188, 7.71,.188, 7.83,.208, 7.95,.228, 7.65,.288,
  7.77,.288, 7.89,.278,
  8.02,.228, 8.05,.198, 8.08,.258, 8.11,.178, 8.14,.238, 8.17,.208, 8.20,.228, 8.23,.178, 8.26,.258, 8.29,.198,
  8.32,.238, 8.35,.188, 8.38,.248, 8.41,.208, 8.44,.188, 8.47,.258, 8.49,.198, 8.06,.218, 8.12,.288, 8.18,.248,
  8.24,.218, 8.30,.278, 8.36,.208, 8.42,.238, 8.48,.288,
  8.52,.218, 8.56,.188, 8.60,.268, 8.64,.208, 8.68,.238, 8.72,.198, 8.76,.258, 8.80,.208, 8.84,.278, 8.88,.198,
  8.92,.238, 8.96,.288, 8.99,.218, 8.58,.228, 8.70,.288, 8.82,.238
];

/* genes at the peak density, x 3 to 9 */
var normalPeak = [
  3.012,.331, 3.062,.427, 3.112,.361, 3.162,.307, 3.212,.441, 3.262,.381, 3.312,.321, 3.362,.401, 3.412,.281,
  3.462,.341, 3.512,.421, 3.562,.264, 3.612,.351, 3.662,.404, 3.712,.291, 3.762,.361, 3.812,.271, 3.862,.391,
  3.912,.351, 3.962,.311, 3.037,.501, 3.187,.281, 3.337,.481, 3.487,.301, 3.637,.461, 3.787,.441, 3.937,.421,
  3.137,.371, 3.587,.391, 3.887,.257,
  4.012,.281, 4.037,.357, 4.062,.314, 4.087,.271, 4.112,.394, 4.137,.301, 4.162,.247, 4.187,.334, 4.212,.287,
  4.237,.367, 4.262,.254, 4.287,.321, 4.312,.344, 4.337,.277, 4.362,.307, 4.387,.241, 4.412,.381, 4.437,.291,
  4.462,.351, 4.487,.317, 4.025,.404, 4.075,.244, 4.125,.331, 4.175,.297, 4.225,.261, 4.275,.411, 4.325,.374,
  4.375,.261, 4.425,.301, 4.475,.264,
  4.512,.267, 4.537,.341, 4.562,.224, 4.587,.284, 4.612,.371, 4.637,.314, 4.662,.251, 4.687,.301, 4.712,.231,
  4.737,.354, 4.762,.287, 4.787,.241, 4.812,.317, 4.837,.264, 4.862,.381, 4.887,.227, 4.912,.294, 4.937,.344,
  4.962,.271, 4.987,.307, 4.525,.394, 4.575,.217, 4.625,.281, 4.675,.361, 4.725,.327, 4.775,.214, 4.825,.404,
  4.875,.311, 4.925,.234, 4.975,.361, 4.550,.307, 4.700,.267, 4.850,.287, 4.950,.211,
  5.012,.254, 5.037,.321, 5.062,.211, 5.087,.271, 5.112,.357, 5.137,.301, 5.162,.237, 5.187,.284, 5.212,.217,
  5.237,.341, 5.262,.271, 5.287,.227, 5.312,.304, 5.337,.251, 5.362,.367, 5.387,.214, 5.412,.281, 5.437,.331,
  5.462,.257, 5.487,.294, 5.025,.381, 5.075,.204, 5.125,.267, 5.175,.347, 5.225,.314, 5.275,.201, 5.325,.391,
  5.375,.297, 5.425,.221, 5.475,.347, 5.050,.294, 5.200,.254, 5.350,.274, 5.450,.201, 5.150,.411, 5.400,.421,
  5.512,.244, 5.537,.311, 5.562,.201, 5.587,.261, 5.612,.347, 5.637,.291, 5.662,.227, 5.687,.274, 5.712,.207,
  5.737,.331, 5.762,.261, 5.787,.217, 5.812,.294, 5.837,.241, 5.862,.357, 5.887,.204, 5.912,.271, 5.937,.321,
  5.962,.247, 5.987,.284, 5.525,.371, 5.575,.194, 5.625,.257, 5.675,.337, 5.725,.304, 5.775,.191, 5.825,.381,
  5.875,.287, 5.925,.211, 5.975,.337, 5.550,.284, 5.700,.244, 5.850,.264, 5.950,.191, 5.650,.401, 5.900,.404,
  6.012,.234, 6.037,.301, 6.062,.194, 6.087,.251, 6.112,.337, 6.137,.281, 6.162,.217, 6.187,.264, 6.212,.197,
  6.237,.321, 6.262,.251, 6.287,.207, 6.312,.284, 6.337,.231, 6.362,.347, 6.387,.194, 6.412,.261, 6.437,.311,
  6.462,.237, 6.487,.274, 6.025,.361, 6.075,.187, 6.125,.247, 6.175,.327, 6.225,.294, 6.275,.184, 6.325,.371,
  6.375,.277, 6.425,.201, 6.475,.327, 6.050,.274, 6.200,.234, 6.350,.254, 6.450,.184, 6.150,.391, 6.400,.394,
  6.512,.227, 6.537,.291, 6.562,.187, 6.587,.244, 6.612,.327, 6.637,.271, 6.662,.211, 6.687,.257, 6.712,.191,
  6.737,.311, 6.762,.244, 6.787,.201, 6.812,.277, 6.837,.224, 6.862,.337, 6.887,.187, 6.912,.254, 6.937,.301,
  6.962,.231, 6.987,.267, 6.525,.351, 6.575,.181, 6.625,.241, 6.675,.317, 6.725,.284, 6.775,.181, 6.825,.361,
  6.875,.271, 6.925,.194, 6.975,.317, 6.550,.267, 6.700,.227, 6.850,.247, 6.950,.181, 6.650,.381, 6.900,.384,
  7.012,.221, 7.037,.281, 7.062,.184, 7.087,.237, 7.112,.314, 7.137,.261, 7.162,.204, 7.187,.247, 7.212,.187,
  7.237,.297, 7.262,.237, 7.287,.194, 7.312,.267, 7.337,.217, 7.362,.321, 7.387,.181, 7.412,.244, 7.437,.287,
  7.462,.224, 7.487,.257, 7.025,.337, 7.075,.177, 7.125,.234, 7.175,.304, 7.225,.274, 7.275,.177, 7.325,.344,
  7.375,.261, 7.425,.187, 7.475,.301, 7.050,.257, 7.200,.221, 7.350,.241, 7.450,.177,
  7.512,.214, 7.537,.271, 7.562,.181, 7.587,.231, 7.612,.301, 7.637,.251, 7.662,.197, 7.687,.241, 7.712,.184,
  7.737,.287, 7.762,.231, 7.787,.191, 7.812,.257, 7.837,.211, 7.862,.311, 7.887,.177, 7.912,.237, 7.937,.277,
  7.962,.217, 7.987,.247, 7.525,.327, 7.575,.174, 7.625,.224, 7.675,.294, 7.725,.264, 7.775,.174, 7.825,.331,
  7.875,.251, 7.925,.184, 7.975,.291, 7.550,.247, 7.700,.214, 7.850,.234, 7.950,.174,
  8.012,.211, 8.037,.264, 8.062,.181, 8.087,.227, 8.112,.291, 8.137,.244, 8.162,.194, 8.187,.234, 8.212,.184,
  8.237,.277, 8.262,.224, 8.287,.191, 8.312,.251, 8.337,.207, 8.362,.297, 8.387,.177, 8.412,.231, 8.437,.267,
  8.462,.214, 8.487,.241, 8.025,.314, 8.075,.177, 8.125,.217, 8.175,.281, 8.225,.254, 8.275,.174, 8.325,.317,
  8.375,.244, 8.425,.181, 8.475,.281,
  8.512,.207, 8.562,.247, 8.612,.194, 8.662,.231, 8.712,.277, 8.762,.201, 8.812,.241, 8.862,.181, 8.912,.221,
  8.962,.261, 8.537,.284, 8.587,.221, 8.637,.301, 8.687,.187, 8.737,.254, 8.787,.271, 8.837,.214, 8.887,.257,
  8.937,.194, 8.987,.241
];

var normalTail = [
  9.02,.30, 9.05,.26, 9.06,.188, 9.08,.40, 9.08,.329, 9.10,.22, 9.11,.188, 9.13,.28, 9.15,.35, 9.16,.234, 9.18,.31,
  9.20,.202, 9.22,.25, 9.25,.342, 9.25,.375, 9.28,.21, 9.31,.268, 9.31,.225, 9.32,.396, 9.32,.185, 9.35,.29,
  9.37,.25, 9.39,.336, 9.40,.242, 9.40,.197, 9.43,.27, 9.45,.361, 9.45,.377, 9.48,.22, 9.50,.275, 9.52,.33,
  9.54,.355, 9.54,.31, 9.57,.24, 9.58,.30, 9.60,.27, 9.64,.289, 9.64,.256, 9.64,.207, 9.67,.387, 9.69,.302,
  9.71,.314, 9.72,.22, 9.74,.333, 9.76,.239, 9.79,.259, 9.80,.287, 9.81,.376, 9.82,.341, 9.85,.31, 9.87,.27,
  9.88,.356, 9.90,.24, 9.93,.288, 9.95,.339, 9.98,.35,
  9.03,.245, 9.07,.215, 9.09,.268, 9.12,.238, 9.14,.198, 9.17,.257, 9.19,.221, 9.21,.284, 9.23,.207, 9.26,.248,
  9.29,.231, 9.33,.214, 9.36,.262, 9.38,.204, 9.42,.229, 9.46,.251, 9.49,.212, 9.53,.268, 9.56,.221, 9.62,.245,
  9.04,.318, 9.12,.341, 9.19,.287, 9.27,.305, 9.34,.318, 9.41,.296, 9.47,.324, 9.03,.198, 9.09,.251, 9.24,.275,
  10.01,.298, 10.03,.26, 10.05,.221, 10.06,.247, 10.08,.312, 10.12,.29, 10.15,.251, 10.18,.314, 10.22,.24,
  10.27,.318, 10.28,.355, 10.30,.265, 10.30,.37, 10.33,.28, 10.36,.31, 10.41,.281, 10.43,.332, 10.46,.22,
  10.49,.294, 10.51,.375, 10.51,.256, 10.52,.203, 10.54,.354, 10.57,.341, 10.58,.408, 10.60,.396, 10.60,.255,
  10.63,.328, 10.63,.247, 10.63,.224, 10.69,.279, 10.75,.27, 10.84,.369, 10.84,.223, 10.89,.332, 10.90,.275,
  10.92,.302, 10.98,.409, 10.99,.331, 11.04,.355, 11.10,.331, 11.20,.42, 11.29,.351, 11.29,.339, 11.43,.35,
  11.49,.447, 11.63,.421, 11.82,.288, 11.87,.339, 11.91,.371, 12.01,.252, 12.02,.306, 12.37,.268, 12.44,.204,
  13.34,.219
];

/* outlier genes, flat x,y pairs */
var outlierHigh = [
  -0.21,1.529, 1.25,1.547, -0.83,1.421, 1.87,1.435, 1.07,1.342, 1.95,1.333, 0.54,1.302, -0.25,1.240, 0.14,1.245,
  0.56,1.246, 0.29,1.167, 0.81,1.169, 1.61,1.138, 0.23,1.121, 2.52,1.091, 0.96,1.066, 2.04,1.056, 1.46,1.038,
  0.58,1.019, 1.11,1.016, 2.05,.977, 0.80,.975, 1.36,.955, 2.77,.957, 0.85,.957, 0.99,.935, 1.32,.906, 1.52,.897,
  2.49,.886, 1.66,.867, 1.79,.841, 2.52,.834, 1.87,.817, 2.31,.768, 2.37,.747, 2.46,.734, 2.50,.748, 2.56,.754,
  2.76,.754, 2.84,.739, 2.77,.706, 3.48,.747, 3.74,.763, 3.26,.735, 3.19,.717, 3.15,.688, 3.05,.675, 3.24,.658,
  3.56,.674, 3.65,.647, 3.63,.642, 3.23,.634, 3.48,.634, 3.68,.62, 3.69,.609, 3.83,.597, 3.80,.59, 3.89,.628,
  3.86,.564,
  5.51,.886, 5.30,.827, 5.50,.810, 4.47,.710, 5.10,.719, 5.46,.720, 5.63,.734, 5.99,.716, 6.30,.729, 5.37,.681,
  5.50,.688, 4.83,.668, 6.01,.663, 3.91,.621, 4.12,.629, 4.30,.633, 4.37,.646, 4.48,.631, 4.65,.646, 4.94,.619,
  4.96,.623, 5.18,.643, 5.39,.625, 5.52,.636, 5.60,.636, 5.86,.641, 5.84,.624, 5.97,.614, 6.27,.608, 5.19,.621,
  5.26,.612, 4.13,.591, 4.02,.576, 4.30,.579, 4.30,.568, 4.50,.576, 4.70,.593, 5.04,.594, 5.00,.585, 5.18,.575,
  5.29,.588, 5.23,.602, 5.36,.572, 5.45,.579, 5.47,.591, 5.62,.599, 5.71,.570, 5.86,.579, 5.91,.575, 6.11,.571,
  6.17,.591, 4.10,.564, 4.46,.565, 4.70,.569, 4.94,.567, 4.75,.560, 5.49,.566, 4.50,.542, 4.65,.528, 4.85,.55,
  4.82,.53, 4.94,.521, 5.04,.541, 5.15,.536, 5.21,.545, 5.34,.544, 5.46,.548, 5.60,.548, 5.77,.534, 5.85,.542,
  6.09,.535, 6.26,.552, 6.33,.509, 6.23,.527, 4.71,.526, 4.85,.509, 5.23,.507, 5.39,.518, 5.49,.517, 5.46,.500,
  5.65,.503, 5.76,.525, 5.89,.499, 6.02,.505, 6.17,.504, 6.19,.494, 5.13,.492, 5.33,.497, 5.53,.488, 5.51,.476,
  5.59,.483, 5.63,.47, 5.70,.482, 5.81,.472, 5.91,.48, 5.95,.459, 6.00,.474, 6.11,.471, 6.20,.485, 6.30,.466,
  6.32,.458, 6.19,.452, 6.30,.435, 6.00,.448, 5.65,.459, 5.40,.484,
  6.94,.985, 8.69,.798, 6.44,.666, 6.87,.679, 7.39,.670, 8.59,.663, 6.47,.646, 6.61,.643, 6.76,.631, 6.85,.636,
  7.47,.641, 8.24,.645, 8.53,.631, 6.94,.614, 6.94,.604, 6.71,.592, 6.79,.588, 6.77,.579, 7.56,.596, 7.79,.599,
  8.35,.609, 8.50,.612, 8.62,.582, 8.94,.584, 6.48,.574, 6.54,.571, 6.76,.567, 6.93,.562, 7.70,.575, 7.38,.554,
  7.47,.56, 7.70,.548, 8.13,.56, 8.23,.54, 8.61,.542, 8.97,.538, 6.27,.551, 6.60,.543, 7.09,.534, 7.28,.535,
  6.87,.528, 6.44,.524, 6.56,.517, 6.72,.512, 6.91,.51, 7.00,.52, 7.06,.505, 8.23,.507, 7.35,.504, 6.45,.504,
  6.72,.497, 6.81,.488, 6.97,.484, 6.61,.485, 7.20,.49, 7.26,.482, 7.37,.48, 8.13,.484, 9.02,.485, 9.25,.49,
  6.48,.456, 6.76,.458, 6.93,.458, 7.06,.454, 7.25,.458, 7.63,.457, 7.76,.458, 7.86,.458, 8.11,.465, 8.17,.439,
  8.55,.437, 8.77,.451, 8.91,.463, 9.00,.43, 9.06,.436, 9.17,.458, 6.62,.44, 6.82,.435, 6.91,.435, 7.13,.434,
  7.30,.436, 7.57,.43, 7.74,.428, 6.87,.421, 7.01,.413, 7.20,.416, 7.94,.414, 8.11,.417, 7.70,.41, 7.59,.405,
  8.05,.402, 8.53,.41, 8.58,.415, 6.69,.425, 7.07,.413, 7.21,.417, 8.21,.396,
  9.67,.598, 9.62,.565, 9.51,.555, 9.54,.528, 9.27,.491, 9.35,.471, 9.20,.464, 9.09,.452, 8.80,.45, 9.54,.452,
  9.34,.443, 9.42,.424, 9.63,.425, 9.99,.521, 9.99,.484, 9.95,.441, 10.13,.442, 10.40,.45, 10.46,.462,
  10.86,.477, 11.17,.501, 11.37,.511
];

var outlierLow = [
  0.03,.404, 0.37,.382, 0.72,.388, 1.42,.322, 1.95,.295, 2.12,.292, 2.28,.288, 2.60,.273, 2.71,.283, 2.89,.273,
  2.79,.263, 3.11,.252, 2.57,.231, 3.36,.222, 3.56,.246, 3.57,.228, 3.67,.221, 3.78,.234, 3.59,.212, 3.91,.225,
  4.13,.224, 4.27,.207, 4.46,.203, 4.53,.202, 4.59,.192, 4.63,.21, 4.70,.203, 4.76,.198, 4.83,.202, 4.89,.19,
  5.04,.194, 5.16,.19, 5.15,.177, 5.32,.148, 5.34,.193, 5.42,.165, 5.49,.185, 5.55,.177, 5.71,.18, 5.76,.165,
  5.80,.183, 6.07,.162, 6.17,.176, 6.22,.166, 6.35,.167, 6.43,.165, 6.51,.165, 6.68,.13, 6.82,.166, 6.83,.135,
  7.10,.162, 7.22,.16, 7.53,.148, 7.93,.149, 7.99,.16, 8.06,.143, 8.11,.161, 8.49,.161, 8.50,.163, 8.98,.145,
  9.36,.166
];

function pairs(flat) {
  var out = [];
  for (var i = 0; i < flat.length; i += 2) out.push([flat[i], flat[i + 1]]);
  return out;
}

var normal = pairs(normalLeft.concat(normalMid, normalRight, normalCore, normalDense, normalPeak, normalTail));
var outliers = pairs(outlierHigh.concat(outlierLow));
var fit = fitX.map(function(d, i) { return [d, fitY[i]]; });

/* plot region (R default margins) */
var plotLeft = 123, plotRight = 1137, plotTop = 124, plotBottom = 747;
var fontSize = 24.8;
var dotR = 1.85;

var svg = d3.select("#chart");

var x = d3.scaleLinear().domain([-1.47, 13.92]).range([plotLeft, plotRight]);
var y = d3.scaleLinear().domain([0.072, 1.602]).range([plotBottom, plotTop]);

// points: normal first, outliers on top
var pts = svg.append("g").attr("class", "points");
pts.selectAll("circle.normal").data(normal).enter().append("circle")
  .attr("class", "normal")
  .attr("cx", function(d) { return x(d[0]); })
  .attr("cy", function(d) { return y(d[1]); })
  .attr("r", dotR)
  .attr("fill", legendColors[0]);
pts.selectAll("circle.outlier").data(outliers).enter().append("circle")
  .attr("class", "outlier")
  .attr("cx", function(d) { return x(d[0]); })
  .attr("cy", function(d) { return y(d[1]); })
  .attr("r", dotR)
  .attr("fill", legendColors[1]);

// trend line
var line = d3.line()
  .x(function(d) { return x(d[0]); })
  .y(function(d) { return y(d[1]); })
  .curve(d3.curveMonotoneX);
svg.append("path").datum(fit)
  .attr("d", line)
  .attr("fill", "none")
  .attr("stroke", "#0000ff")
  .attr("stroke-width", 1.6);

// axes
var xAxis = d3.axisBottom(x).tickValues(xTicks).tickSize(15).tickFormat(d3.format("d"));
var gx = svg.append("g").attr("transform", "translate(0," + plotBottom + ")").call(xAxis);
gx.select(".domain").remove();
gx.selectAll(".tick line").attr("stroke", "#000").attr("stroke-width", 1.8);
gx.selectAll(".tick text")
  .attr("y", 54.5).attr("dy", 0)
  .style("font-size", fontSize + "px")
  .attr("font-family", null);

var yAxis = d3.axisLeft(y).tickValues(yTicks).tickSize(15).tickFormat(d3.format(".1f"));
var gy = svg.append("g").attr("transform", "translate(" + plotLeft + ",0)").call(yAxis);
gy.select(".domain").remove();
gy.selectAll(".tick line").attr("stroke", "#000").attr("stroke-width", 1.8);
gy.selectAll(".tick text")
  .attr("x", 0).attr("dy", 0)
  .attr("text-anchor", "middle")
  .attr("transform", "translate(-35.5,0) rotate(-90)")
  .style("font-size", fontSize + "px")
  .attr("font-family", null);

// frame
svg.append("rect")
  .attr("x", plotLeft).attr("y", plotTop)
  .attr("width", plotRight - plotLeft).attr("height", plotBottom - plotTop)
  .attr("fill", "none").attr("stroke", "#000").attr("stroke-width", 1.8);

// axis titles
svg.append("text")
  .attr("x", (plotLeft + plotRight) / 2).attr("y", 860)
  .attr("text-anchor", "middle")
  .style("font-size", fontSize + "px")
  .text("Average log-expression");
svg.append("text")
  .attr("transform", "translate(31.5," + ((plotTop + plotBottom) / 2) + ") rotate(-90)")
  .attr("text-anchor", "middle")
  .style("font-size", fontSize + "px")
  .text("sqrt(sigma)");

// legend (top right)
var lg = svg.append("g").attr("class", "legend");
lg.append("rect")
  .attr("x", 999).attr("y", plotTop)
  .attr("width", plotRight - 999).attr("height", 212 - plotTop)
  .attr("fill", "#fff").attr("stroke", "#000").attr("stroke-width", 1.8);
var items = lg.selectAll("g.item").data(legendLabels).enter().append("g")
  .attr("class", "item")
  .attr("transform", function(d, i) { return "translate(0," + (153.5 + i * 29.5) + ")"; });
items.append("circle")
  .attr("cx", 1022.5).attr("cy", 0).attr("r", 4.4)
  .attr("fill", function(d, i) { return legendColors[i]; });
items.append("text")
  .attr("x", 1045).attr("y", 8.3)
  .style("font-size", fontSize + "px")
  .text(function(d) { return d; });
</script>
</body>
</html>
